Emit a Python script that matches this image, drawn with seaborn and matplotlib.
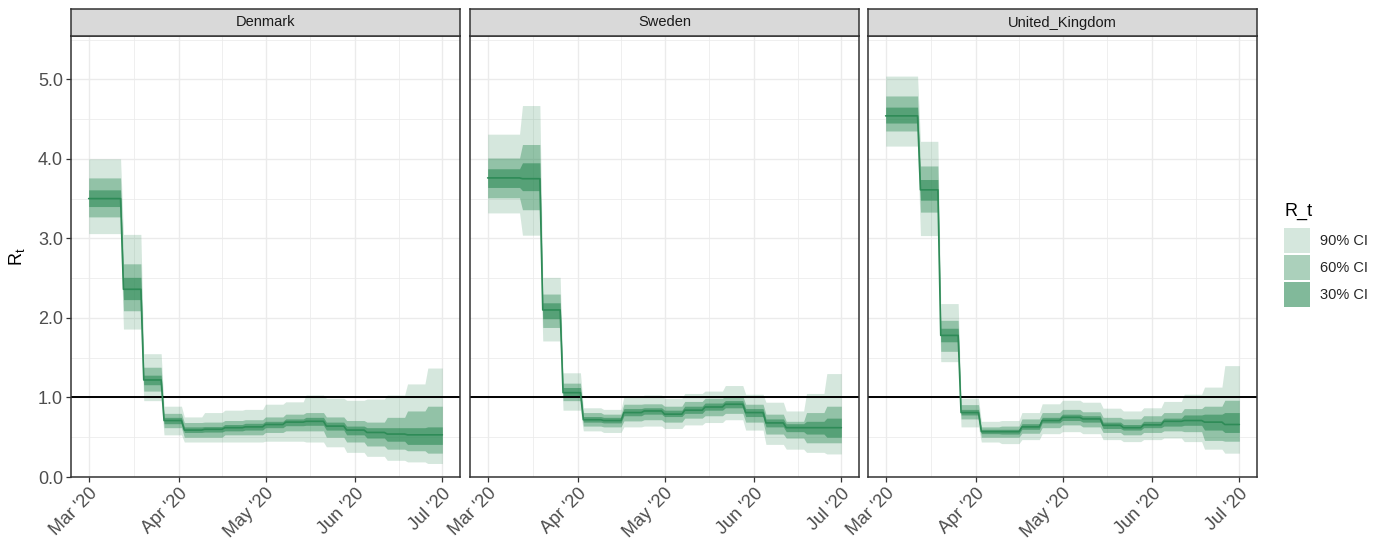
import numpy as np
import pandas as pd
import matplotlib
matplotlib.use("Agg")
import matplotlib.pyplot as plt
import matplotlib.dates as mdates
from matplotlib.patches import Patch
import seaborn as sns

# ---------------------------------------------------------------------------
# Reproduction-number estimates: piecewise constant over these periods
# ---------------------------------------------------------------------------
countries = ["Denmark", "Sweden", "United_Kingdom"]
segment_starts = ["2020-03-01", "2020-03-13", "2020-03-20", "2020-03-27",
                  "2020-04-03", "2020-04-10", "2020-04-17", "2020-04-24",
                  "2020-05-01", "2020-05-08", "2020-05-15", "2020-05-22",
                  "2020-05-29", "2020-06-05", "2020-06-12", "2020-06-19",
                  "2020-06-26"]
end_date = "2020-07-01"

dk_median = [3.50, 2.36, 1.22, 0.71, 0.59, 0.60, 0.62, 0.63, 0.66, 0.69, 0.70, 0.64, 0.59, 0.56, 0.54, 0.53, 0.53]
dk_lo30 = [3.40, 2.23, 1.16, 0.67, 0.56, 0.565, 0.58, 0.59, 0.62, 0.645, 0.65, 0.59, 0.53, 0.49, 0.45, 0.41, 0.41]
dk_hi30 = [3.61, 2.51, 1.28, 0.75, 0.63, 0.635, 0.66, 0.675, 0.70, 0.73, 0.75, 0.69, 0.64, 0.62, 0.62, 0.62, 0.63]
dk_lo60 = [3.27, 2.09, 1.08, 0.62, 0.50, 0.50, 0.53, 0.53, 0.56, 0.58, 0.58, 0.50, 0.44, 0.39, 0.35, 0.33, 0.30]
dk_hi60 = [3.76, 2.68, 1.38, 0.80, 0.685, 0.69, 0.71, 0.72, 0.755, 0.79, 0.81, 0.755, 0.71, 0.69, 0.75, 0.83, 0.89]
dk_lo90 = [3.06, 1.86, 0.96, 0.53, 0.44, 0.44, 0.44, 0.44, 0.45, 0.45, 0.44, 0.38, 0.31, 0.26, 0.21, 0.19, 0.17]
dk_hi90 = [4.00, 3.05, 1.55, 0.89, 0.755, 0.81, 0.84, 0.85, 0.915, 0.945, 1.03, 0.99, 0.965, 0.98, 1.03, 1.17, 1.37]

se_median = [3.76, 3.75, 2.10, 1.06, 0.72, 0.71, 0.81, 0.83, 0.79, 0.84, 0.88, 0.915, 0.81, 0.68, 0.62, 0.62, 0.62]
se_lo30 = [3.64, 3.60, 1.99, 1.02, 0.69, 0.68, 0.77, 0.79, 0.76, 0.80, 0.84, 0.87, 0.76, 0.63, 0.57, 0.54, 0.50]
se_hi30 = [3.875, 3.95, 2.19, 1.125, 0.76, 0.75, 0.86, 0.87, 0.84, 0.89, 0.93, 0.96, 0.86, 0.73, 0.67, 0.70, 0.74]
se_lo60 = [3.51, 3.36, 1.88, 0.96, 0.64, 0.63, 0.705, 0.72, 0.69, 0.74, 0.77, 0.80, 0.69, 0.54, 0.49, 0.43, 0.43]
se_hi60 = [4.01, 4.18, 2.30, 1.18, 0.81, 0.79, 0.915, 0.92, 0.89, 0.95, 0.99, 1.02, 0.915, 0.79, 0.70, 0.81, 0.89]
se_lo90 = [3.32, 3.04, 1.71, 0.84, 0.58, 0.56, 0.63, 0.64, 0.61, 0.655, 0.685, 0.72, 0.59, 0.41, 0.35, 0.31, 0.29]
se_hi90 = [4.31, 4.67, 2.51, 1.31, 0.87, 0.85, 1.01, 1.03, 0.99, 1.05, 1.08, 1.15, 1.04, 0.94, 0.83, 1.05, 1.30]

uk_median = [4.54, 3.61, 1.78, 0.81, 0.57, 0.57, 0.63, 0.71, 0.75, 0.73, 0.65, 0.62, 0.655, 0.70, 0.71, 0.69, 0.66]
uk_lo30 = [4.45, 3.48, 1.70, 0.78, 0.545, 0.54, 0.60, 0.68, 0.71, 0.69, 0.61, 0.59, 0.62, 0.64, 0.65, 0.59, 0.56]
uk_hi30 = [4.65, 3.74, 1.87, 0.85, 0.60, 0.60, 0.67, 0.75, 0.79, 0.77, 0.69, 0.66, 0.70, 0.74, 0.78, 0.79, 0.81]
uk_lo60 = [4.35, 3.33, 1.58, 0.73, 0.50, 0.50, 0.55, 0.62, 0.655, 0.63, 0.56, 0.53, 0.56, 0.58, 0.57, 0.46, 0.45]
uk_hi60 = [4.79, 3.91, 1.97, 0.91, 0.63, 0.64, 0.73, 0.81, 0.85, 0.82, 0.75, 0.73, 0.77, 0.81, 0.86, 0.89, 0.965]
uk_lo90 = [4.16, 3.035, 1.45, 0.63, 0.44, 0.42, 0.47, 0.545, 0.57, 0.545, 0.47, 0.445, 0.47, 0.49, 0.445, 0.35, 0.30]
uk_hi90 = [5.04, 4.22, 2.18, 0.99, 0.70, 0.71, 0.81, 0.92, 0.965, 0.94, 0.865, 0.83, 0.87, 0.95, 1.04, 1.13, 1.40]

ci_labels = ["90% CI", "60% CI", "30% CI"]
ci_alphas = [0.2, 0.4, 0.6]
month_ticks = ["2020-03-01", "2020-04-01", "2020-05-01", "2020-06-01", "2020-07-01"]
y_ticks = [0, 1, 2, 3, 4, 5]

series = {
    "Denmark": (dk_median, dk_lo30, dk_hi30, dk_lo60, dk_hi60, dk_lo90, dk_hi90),
    "Sweden": (se_median, se_lo30, se_hi30, se_lo60, se_hi60, se_lo90, se_hi90),
    "United_Kingdom": (uk_median, uk_lo30, uk_hi30, uk_lo60, uk_hi60, uk_lo90, uk_hi90),
}

# Expand the period values onto a daily time axis
dates = pd.date_range(segment_starts[0], end_date, freq="D")
seg_idx = np.searchsorted(pd.to_datetime(segment_starts).values, dates.values, side="right") - 1
cols = ["median", "lo30", "hi30", "lo60", "hi60", "lo90", "hi90"]
frames = []
for c in countries:
    d = {"country": c, "date": dates}
    for name, vals in zip(cols, series[c]):
        d[name] = np.asarray(vals)[seg_idx]
    frames.append(pd.DataFrame(d))
df = pd.concat(frames, ignore_index=True)

# ---------------------------------------------------------------------------
# Styling
# ---------------------------------------------------------------------------
sns.set_theme(style="white")
plt.rcParams["font.family"] = ["Liberation Sans", "DejaVu Sans"]
plt.rcParams["mathtext.fontset"] = "custom"
plt.rcParams["mathtext.rm"] = "Liberation Sans"
plt.rcParams["mathtext.it"] = "Liberation Sans"

GREEN = "#2E8B57"
BORDER = "#333333"
GRID = "#EBEBEB"
TEXT_AX = "#4D4D4D"
FS_AXIS = 13.0     # tick labels
FS_SMALL = 10.5    # strip and legend labels
FS_TITLE = 13.0    # axis / legend titles

W, H = 1383, 544
fig = plt.figure(figsize=(W / 100, H / 100), dpi=100)
fig.patch.set_facecolor("white")

panel_left = [71, 470, 868]
panel_w = 389
panel_top, panel_bottom = 36, 477
strip_top = 9

d0 = mdates.date2num(pd.Timestamp(segment_starts[0]))
d1 = mdates.date2num(pd.Timestamp(end_date))
pad = 0.05 * (d1 - d0)
xlim = (d0 - pad, d1 + pad)
ylim = (0, 1.1 * max(max(dk_hi90), max(se_hi90), max(uk_hi90)))

major_x = mdates.date2num(pd.to_datetime(month_ticks))
minor_x = (major_x[:-1] + major_x[1:]) / 2
minor_y = [v + 0.5 for v in y_ticks]

for i, c in enumerate(countries):
    ax = fig.add_axes([panel_left[i] / W, 1 - panel_bottom / H,
                       panel_w / W, (panel_bottom - panel_top) / H])
    sub = df[df["country"] == c]

    # grid
    for v in minor_x:
        ax.axvline(v, color=GRID, lw=0.55, zorder=0)
    for v in minor_y:
        ax.axhline(v, color=GRID, lw=0.55, zorder=0)
    for v in major_x:
        ax.axvline(v, color=GRID, lw=1.0, zorder=0)
    for v in y_ticks:
        ax.axhline(v, color=GRID, lw=1.0, zorder=0)

    # credible-interval ribbons
    for (lo, hi), a in zip([("lo90", "hi90"), ("lo60", "hi60"), ("lo30", "hi30")], ci_alphas):
        ax.fill_between(sub["date"], sub[lo], sub[hi], color=GREEN, alpha=a,
                        linewidth=0, zorder=1)

    ax.axhline(1.0, color="black", lw=1.4, zorder=3)
    sns.lineplot(data=sub, x="date", y="median", ax=ax, color=GREEN, lw=1.2,
                 zorder=4, legend=False)

    ax.set_xlim(xlim)
    ax.set_ylim(ylim)
    ax.set_xticks(major_x)
    ax.xaxis.set_major_formatter(mdates.DateFormatter("%b '%y"))
    ax.set_xlabel("")
    ax.set_ylabel("")
    ax.tick_params(axis="x", which="major", length=3.8, width=0.9, color=BORDER,
                   labelsize=FS_AXIS, labelcolor=TEXT_AX, pad=2, direction="out", bottom=True)
    for lab in ax.get_xticklabels():
        lab.set_rotation(45)
        lab.set_horizontalalignment("right")
        lab.set_verticalalignment("top")
        lab.set_rotation_mode("anchor")
    if i == 0:
        ax.set_yticks(y_ticks)
        ax.set_yticklabels([f"{v:.1f}" for v in y_ticks])
        ax.tick_params(axis="y", length=3.8, width=0.9, color=BORDER,
                       labelsize=FS_AXIS, labelcolor=TEXT_AX, pad=2, direction="out", left=True)
        ax.set_ylabel(r"$\mathregular{R_t}$", fontsize=FS_TITLE, color="black")
        ax.yaxis.set_label_coords(-0.112, 0.5)
    else:
        ax.set_yticks([])
    for s in ax.spines.values():
        s.set_color(BORDER)
        s.set_linewidth(1.1)
        s.set_zorder(5)
    ax.grid(False)

    # facet strip
    sax = fig.add_axes([panel_left[i] / W, 1 - panel_top / H,
                        panel_w / W, (panel_top - strip_top) / H])
    sax.set_facecolor("#D9D9D9")
    sax.set_xticks([])
    sax.set_yticks([])
    for s in sax.spines.values():
        s.set_color(BORDER)
        s.set_linewidth(1.1)
    sax.text(0.5, 0.5, c, ha="center", va="center", fontsize=FS_SMALL,
             color="#1A1A1A", transform=sax.transAxes)

# legend
fig.text(1284 / W, 1 - 211 / H, "R_t", ha="left", va="center",
         fontsize=FS_TITLE, color="black")
handles = [Patch(facecolor=GREEN, alpha=a, edgecolor="none") for a in ci_alphas]
fig.legend(handles, ci_labels, loc="upper left",
           bbox_to_anchor=(1284 / W, 1 - 228 / H), frameon=False,
           fontsize=FS_SMALL, handlelength=1.8, handleheight=2.31,
           labelspacing=0.1, handletextpad=0.65, borderaxespad=0, borderpad=0)

fig.savefig("out.png", dpi=100, facecolor="white")
